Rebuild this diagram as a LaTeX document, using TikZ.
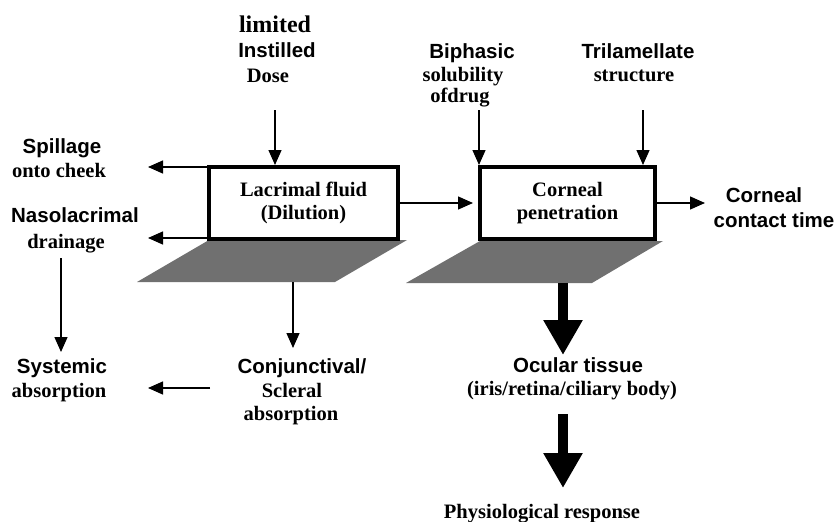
\documentclass[tikz,border=0pt]{standalone}
\usepackage{fontspec}
\setmainfont{Liberation Serif}
\setsansfont{Liberation Sans}
\usetikzlibrary{arrows.meta}
\definecolor{shadegray}{RGB}{112,112,112}
\tikzset{
  arr/.style={line width=1.3pt, -{Triangle[length=15pt,width=13pt]}},
  bigarr/.style={line width=10pt, -{Triangle[length=35pt,width=37pt]}},
  boxnode/.style={draw, fill=white, line width=4pt, align=center, inner sep=0pt,
    font=\rmfamily\bfseries\fontsize{20.5}{23}\selectfont},
  sflbl/.style={font=\sffamily\bfseries\fontsize{20.5}{24}\selectfont, anchor=base, inner sep=0pt},
  rmlbl/.style={font=\rmfamily\bfseries\fontsize{20.5}{24}\selectfont, anchor=base, inner sep=0pt},
  shadow/.style={fill=shadegray}
}
\begin{document}
\begin{tikzpicture}[x=1pt,y=-1pt]
\useasboundingbox (0,0) rectangle (839,522);
% shadows
\fill[shadow] (209,240) -- (407,240) -- (335,282) -- (137,282) -- cycle;
\fill[shadow] (480,241) -- (663,241) -- (592,283) -- (406,283) -- cycle;
% boxes
\node[boxnode, minimum width=189pt, minimum height=72pt] (lac) at (303.5,203) {Lacrimal fluid\\(Dilution)};
\node[boxnode, minimum width=175pt, minimum height=72pt] (corn) at (567.5,203) {Corneal\\penetration};
% labels
\node[rmlbl, font=\rmfamily\bfseries\fontsize{24}{26}\selectfont] (lim) at (275,32) {limited};
\node[sflbl] (inst) at (277,57) {Instilled};
\node[rmlbl] (dose) at (268,82) {Dose};
\node[sflbl] (spl1) at (62,153) {Spillage};
\node[rmlbl] (spl2) at (59,177) {onto cheek};
\node[sflbl] (nas1) at (75,222) {Nasolacrimal};
\node[rmlbl] (nas2) at (66,248) {drainage};
\node[sflbl] (sys1) at (62,373) {Systemic};
\node[rmlbl] (sys2) at (59,397) {absorption};
\node[sflbl] (con1) at (302,373) {Conjunctival/};
\node[rmlbl] (con2) at (292,397) {Scleral};
\node[rmlbl] (con3) at (291,420) {absorption};
\node[sflbl] (bip1) at (472,58) {Biphasic};
\node[rmlbl] (bip2) at (463,81) {solubility};
\node[rmlbl] (bip3) at (460,102) {ofdrug};
\node[sflbl] (tri1) at (638,58) {Trilamellate};
\node[rmlbl] (tri2) at (634,81) {structure};
\node[sflbl] (cct1) at (764,202) {Corneal};
\node[sflbl] (cct2) at (774,227) {contact time};
\node[sflbl] (ocu1) at (578,372) {Ocular tissue};
\node[rmlbl] (ocu2) at (572,395) {(iris/retina/ciliary body)};
\node[rmlbl] (phy) at (542,518) {Physiological response};
% connector end points
\coordinate (doseTail) at (275,110);
\coordinate (bipTail) at (479,110);
\coordinate (triTail) at (643,110);
\coordinate (spillTip) at (148,167);
\coordinate (nasoTip) at (148,238);
\coordinate (cctTip) at (705,205);
\coordinate (drainTail) at (61,258);
\coordinate (sysTip) at (61,352);
\coordinate (shadeOneBottom) at (293,282);
\coordinate (conjTip) at (293,348);
\coordinate (conjTail) at (210,388);
\coordinate (sysSideTip) at (148,388);
\coordinate (shadeTwoBottom) at (563,283);
\coordinate (ocuTip) at (563,355);
\coordinate (ocuTail) at (563,414);
\coordinate (phyTip) at (563,488);
% connectors
\draw[arr] (doseTail) -- (doseTail |- lac.north);
\draw[arr] (bipTail) -- (bipTail |- corn.north);
\draw[arr] (triTail) -- (triTail |- corn.north);
\draw[arr] (spillTip -| lac.west) -- (spillTip);
\draw[arr] (nasoTip -| lac.west) -- (nasoTip);
\draw[arr, shorten >=5pt] (lac.east) -- (corn.west);
\draw[arr] (corn.east) -- (corn.east -| cctTip);
\draw[arr] (drainTail) -- (sysTip);
\draw[arr] (shadeOneBottom) -- (conjTip);
\draw[arr] (conjTail) -- (sysSideTip);
\draw[bigarr] (shadeTwoBottom) -- (ocuTip);
\draw[bigarr] (ocuTail) -- (phyTip);
\end{tikzpicture}
\end{document}
